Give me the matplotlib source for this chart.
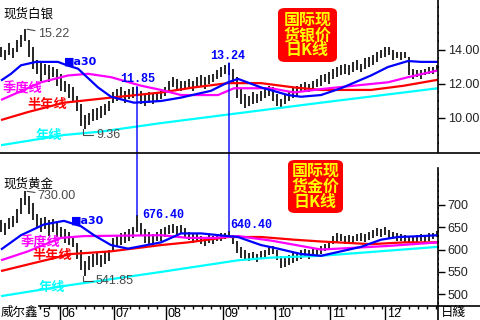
import numpy as np
import matplotlib
matplotlib.use("Agg")
import matplotlib.pyplot as plt
from matplotlib.lines import Line2D
from matplotlib.patches import FancyBboxPatch, ConnectionPatch
from matplotlib.transforms import blended_transform_factory

plt.rcParams["font.family"] = ["Liberation Sans", "Noto Sans CJK SC", "DejaVu Sans"]

# daily bars (high / low), one per trading day shown
silver_high = [14.2, 14.0, 14.4, 14.1, 14.6, 14.9, 15.22, 14.6, 14.2, 13.4,
               13.3, 13.2, 13.1, 13.0, 12.9, 12.6, 12.2, 12.0, 11.8, 11.3,
               10.8, 10.2, 10.3, 10.5, 10.6, 10.7, 10.8, 11.0, 11.5, 11.7,
               11.8, 11.6, 11.7, 11.8, 11.85, 11.6, 11.4, 11.5, 11.4, 11.5,
               11.6, 11.8, 12.2, 12.4, 12.3, 12.2, 12.2, 12.3, 12.2, 12.4,
               12.5, 12.4, 12.5, 12.6, 12.8, 13.0, 13.1, 13.24, 12.9, 12.4,
               11.7, 11.4, 11.3, 11.5, 11.4, 11.6, 11.8, 11.9, 11.8, 11.4,
               11.1, 11.4, 11.6, 11.8, 11.9, 12.0, 12.1, 12.0, 12.2, 12.3,
               12.5, 12.6, 12.7, 12.9, 13.0, 13.1, 13.2, 13.1, 13.3, 13.4,
               13.2, 13.5, 13.6, 13.7, 13.9, 14.0, 14.2, 14.2, 14.0, 13.9,
               13.9, 13.9, 13.6, 12.9, 12.8, 12.8, 12.9, 13.0, 13.0, 13.1]
silver_low = [13.6, 13.4, 13.7, 13.5, 13.9, 14.2, 14.5, 13.6, 12.9, 12.6,
              12.2, 12.5, 12.1, 12.4, 11.9, 11.6, 11.5, 11.2, 11.0, 10.4,
              9.5, 9.36, 9.6, 9.8, 9.9, 10.0, 10.2, 10.4, 10.9, 11.0,
              11.2, 10.9, 11.1, 11.2, 11.3, 10.8, 10.7, 10.9, 10.8, 11.0,
              11.1, 11.3, 11.6, 11.8, 11.7, 11.6, 11.7, 11.8, 11.6, 11.8,
              11.9, 11.7, 12.0, 12.1, 12.3, 12.4, 12.6, 12.5, 12.0, 11.2,
              10.8, 10.6, 10.7, 10.8, 10.9, 11.0, 11.2, 11.3, 11.0, 10.7,
              10.6, 10.8, 11.0, 11.2, 11.3, 11.5, 11.6, 11.5, 11.7, 11.8,
              11.9, 12.1, 12.0, 12.3, 12.4, 12.5, 12.6, 12.5, 12.7, 12.8,
              12.7, 12.9, 13.0, 13.1, 13.3, 13.5, 13.6, 13.7, 13.4, 13.5,
              13.4, 13.5, 12.5, 12.3, 12.4, 12.3, 12.5, 12.6, 12.6, 12.8]
gold_high = [665, 660, 670, 675, 690, 715, 730, 720, 705, 680,
             670, 672, 665, 668, 660, 650, 645, 640, 630, 615,
             600, 575, 585, 590, 592, 588, 595, 598, 625, 630,
             638, 640, 645, 650, 676.4, 660, 645, 640, 635, 640,
             645, 650, 655, 656, 652, 655, 648, 640, 635, 638,
             630, 628, 632, 630, 634, 636, 638, 640.4, 632, 620,
             606, 598, 592, 594, 590, 596, 600, 606, 608, 598,
             585, 582, 588, 592, 595, 598, 602, 600, 606, 604,
             608, 612, 618, 630, 636, 634, 630, 632, 630, 634,
             636, 634, 640, 644, 648, 646, 650, 644, 640, 636,
             634, 632, 630, 628, 632, 634, 632, 636, 638, 642]
gold_low = [640, 632, 645, 650, 660, 680, 700, 680, 665, 650,
            640, 645, 630, 640, 628, 625, 615, 610, 605, 580,
            555, 541.85, 555, 560, 565, 562, 568, 575, 595, 605,
            610, 615, 618, 625, 640, 630, 615, 612, 610, 618,
            620, 628, 635, 638, 632, 636, 628, 622, 615, 620,
            612, 608, 615, 612, 618, 620, 624, 626, 612, 592,
            582, 576, 574, 576, 572, 578, 582, 588, 590, 576,
            558, 560, 566, 570, 575, 578, 584, 580, 588, 584,
            590, 596, 600, 612, 615, 618, 612, 616, 614, 618,
            620, 616, 622, 626, 630, 628, 632, 626, 624, 618,
            620, 614, 616, 612, 614, 618, 616, 620, 624, 628]

# moving averages (position in bars, value)
s_ma30_x = [0, 2.5, 5, 8.75, 14.25, 16.5, 19.25, 24.25, 27.5, 33.25, 40, 45, 52.5,
            56.75, 59.25, 65, 71.75, 75, 80, 85, 92.5, 96.75, 101.75, 105, 109.25]
s_ma30 = [12.2, 12.6, 13.1, 13.3, 13.3, 13.1, 12.9, 11.8, 11.25, 10.9, 11.0, 11.2, 11.6,
          12.1, 12.3, 11.8, 11.35, 11.25, 11.35, 11.75, 12.5, 13.0, 13.35, 13.3, 13.3]
s_ma60_x = [0, 10, 16.75, 21.75, 27.5, 35, 40, 45, 54.25, 58.25, 67.5, 73.25, 80,
            88.25, 96.75, 101.75, 109.25]
s_ma60 = [11.06, 12.1, 12.5, 12.6, 12.4, 11.9, 11.65, 11.35, 11.35, 11.75, 11.75, 11.5, 11.7,
          11.9, 12.1, 12.4, 12.8]
s_ma120_x = [0, 6.75, 15.75, 27.5, 40, 48.25, 56.75, 65, 73.25, 80, 92.5, 100.75, 109.25]
s_ma120 = [9.88, 10.35, 10.9, 11.2, 11.5, 11.8, 12.05, 12.05, 11.8, 11.65, 11.65, 11.9, 12.25]
s_ma250_x = [0, 15.75, 25, 40, 80, 109.25]
s_ma250 = [8.4, 9.0, 9.2, 9.7, 10.9, 11.75]

g_ma30_x = [0, 5, 10.75, 15.75, 20, 23.25, 27.5, 31.75, 40, 45, 50, 56.75, 59.25,
            65, 69.25, 75, 80, 85, 90, 95, 99.25, 105, 109.25]
g_ma30 = [600, 632, 656, 664, 652, 632, 610, 602, 616, 636, 636, 630, 628,
          610, 602, 590, 586, 596, 606, 622, 628, 630, 632]
g_ma60_x = [0, 6.75, 15, 20.75, 40, 46.75, 53.25, 59.25, 67.5, 80, 96.75, 109.25]
g_ma60 = [576, 596, 626, 630, 632, 626, 626, 630, 620, 600, 608, 616]
g_ma120_x = [0, 8.25, 17.5, 27.5, 40, 46.75, 56.75, 65, 73.25, 80, 92.5, 100.75, 109.25]
g_ma120 = [552, 570, 590, 596, 610, 616, 628, 628, 622, 618, 612, 616, 616]
g_ma250_x = [0, 16.75, 40, 59.25, 67.5, 80, 109.25]
g_ma250 = [496, 520, 550, 576, 582, 586, 606]

month_pos = [14.75, 28.25, 41.25, 55.5, 68.5, 82.25, 96]
month_labels = ["06", "07", "08", "09", "10", "11", "12"]

BLUE, MAG, RED, CYAN = "#0000ff", "#ff00ff", "#ff0000", "#00ffff"
W, H = 480, 320

fig = plt.figure(figsize=(4.8, 3.2), dpi=100)
ax1 = fig.add_axes([0, 1 - 152 / H, 438 / W, 152 / H])
ax2 = fig.add_axes([0, 14 / H, 438 / W, 138 / H])

x = np.arange(len(silver_high))


def panel(ax, hi, lo, mas, yticks, fmt, ylim):
    ax.vlines(x, lo, hi, color="black", lw=1.2)
    for mx, my, c in mas:
        ax.plot(mx, my, color=c, lw=1.6, solid_capstyle="butt")
    ax.set_xlim(-0.25, 109.25)
    ax.set_ylim(*ylim)
    for s in ["top", "left", "bottom"]:
        ax.spines[s].set_visible(False)
    ax.spines["right"].set_linewidth(1.2)
    ax.yaxis.tick_right()
    ax.set_yticks(yticks)
    ax.set_yticklabels([fmt % v for v in yticks])
    ax.tick_params(axis="y", which="major", length=5, width=1, labelsize=9,
                   labelcolor="#222222", pad=2)
    ax.tick_params(axis="y", which="minor", length=1, width=1.4)
    ax.set_facecolor("none")


panel(ax1, silver_high, silver_low,
      [(s_ma250_x, s_ma250, CYAN), (s_ma120_x, s_ma120, RED),
       (s_ma60_x, s_ma60, MAG), (s_ma30_x, s_ma30, BLUE)],
      [10, 12, 14], "%.2f", (8.0, 16.94))
ax1.set_yticks(np.arange(8.5, 16.9, 0.5), minor=True)
ax1.set_xticks([])

panel(ax2, gold_high, gold_low,
      [(g_ma250_x, g_ma250, CYAN), (g_ma120_x, g_ma120, RED),
       (g_ma60_x, g_ma60, MAG), (g_ma30_x, g_ma30, BLUE)],
      [500, 550, 600, 650, 700], "%d", (474, 782))
ax2.set_yticks(np.arange(480, 780, 12.5), minor=True)
ax2.set_xticks(month_pos)
ax2.set_xticklabels([])
ax2.set_xticks(np.arange(9.75, 109, 2.25), minor=True)
ax2.tick_params(axis="x", which="major", length=10, width=1, direction="out")
ax2.tick_params(axis="x", which="minor", length=2.2, width=1, direction="out")

# bottom date strip
bt = blended_transform_factory(ax2.transData, ax2.transAxes)
for mp, ml in zip(month_pos, month_labels):
    ax2.text(mp + 0.4, -0.012, ml, transform=bt, ha="left", va="top", fontsize=9)
ax2.text(10.3, -0.012, "5", transform=bt, ha="left", va="top", fontsize=9)
fig.text(0.002, 7 / H, "威尔鑫", fontsize=9, va="center", ha="left")
fig.text(441 / W, 7 / H, "日綫", fontsize=9, va="center", ha="left")

fig.add_artist(Line2D([0, 1], [1 - 152.5 / H] * 2, color="black", lw=1.2))
fig.add_artist(Line2D([39 / W, 1], [14 / H] * 2, color="black", lw=1.2))
fig.add_artist(Line2D([438.4 / W] * 2, [0, 14 / H], color="black", lw=1.2))

# panel titles and legend-like tags
ax1.text(0.5, 16.1, "现货白银", fontsize=9, va="center", ha="left")
ax2.text(0.5, 746, "现货黄金", fontsize=9, va="center", ha="left")
tag = dict(fontsize=9.5, fontweight="bold", va="center", ha="left")
ax1.text(0.4, 11.7, "季度线", color=MAG, **tag)
ax1.text(6.6, 10.76, "半年线", color=RED, **tag)
ax1.text(8.7, 8.94, "年线", color=CYAN, **tag)
ax2.text(5.0, 614, "季度线", color=MAG, **tag)
ax2.text(7.9, 586, "半年线", color=RED, **tag)
ax2.text(9.4, 514, "年线", color=CYAN, **tag)
ax1.text(15.7, 13.3, "■a30", color=BLUE, fontsize=8, fontweight="bold",
         va="center", ha="left", family="DejaVu Sans")
ax2.text(17.4, 664, "■a30", color=BLUE, fontsize=8, fontweight="bold",
         va="center", ha="left", family="DejaVu Sans")

# extreme value callouts
grey = "#4a4a4a"
lead = dict(arrowstyle="-", color=grey, lw=0.8, shrinkA=0, shrinkB=0)
ax1.annotate("15.22", xy=(6.5, 15.22), xytext=(9.2, 14.95), fontsize=9, color=grey,
             va="center", ha="left", arrowprops=lead)
ax2.annotate("730.00", xy=(6.5, 730), xytext=(9.2, 720), fontsize=9, color=grey,
             va="center", ha="left", arrowprops=lead)
ell = dict(lead, connectionstyle="angle,angleA=0,angleB=90,rad=0")
ax1.annotate("9.36", xy=(20.5, 9.36), xytext=(23.8, 9.0), fontsize=9, color=grey,
             va="center", ha="left", arrowprops=ell)
ax2.annotate("541.85", xy=(20.5, 541.85), xytext=(23.6, 530), fontsize=9, color=grey,
             va="center", ha="left", arrowprops=ell)

num = dict(color=BLUE, fontsize=8.5, fontweight="bold", family="Liberation Mono")
ax1.text(34.1, 11.93, "11.85", ha="center", va="bottom", **num)
ax1.text(56.6, 13.32, "13.24", ha="center", va="bottom", **num)
ax2.text(35.4, 676.4, "676.40", ha="left", va="center", **num)
ax2.text(57.4, 642, "640.40", ha="left", va="bottom", **num)

for xp, a, b in [(34, 11.85, 676.4), (57, 13.24, 640.4)]:
    fig.add_artist(ConnectionPatch(xyA=(xp, a), coordsA=ax1.transData,
                                   xyB=(xp, b), coordsB=ax2.transData,
                                   color=BLUE, lw=1))

# red title boxes
for (bx, by, bw, bh), txt in [((278, 8, 59, 54), "国际现\n货银价\n日K线"),
                              ((288, 160, 55, 53), "国际现\n货金价\n日K线")]:
    fig.add_artist(FancyBboxPatch((bx / W, 1 - (by + bh) / H), bw / W, bh / H,
                                  boxstyle="round,pad=0,rounding_size=0.015",
                                  transform=fig.transFigure, fc=RED, ec="none"))
    fig.text((bx + bw / 2) / W, 1 - (by + bh / 2) / H, txt, color="#ffff00",
             fontsize=11.5, fontweight="bold", ha="center", va="center",
             linespacing=0.95, family=["Noto Sans CJK SC", "DejaVu Sans"])

fig.savefig("out.png", dpi=100, facecolor="white")
